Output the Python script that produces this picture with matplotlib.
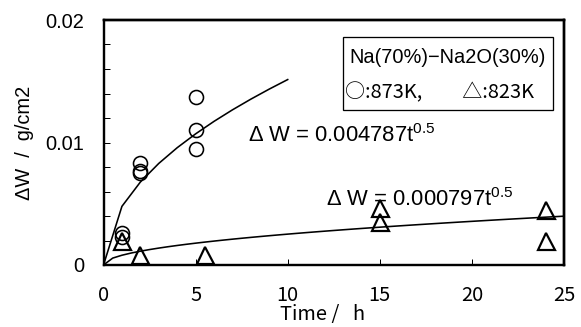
import numpy as np
import matplotlib.pyplot as plt
from matplotlib.patches import Rectangle

plt.rcParams['mathtext.fontset'] = 'custom'
plt.rcParams['mathtext.rm'] = 'Liberation Sans'
plt.rcParams['mathtext.it'] = 'Liberation Sans'

# 873K (circles)
t_873 = [1, 1, 2, 2, 2, 5, 5, 5]
dw_873 = [0.0026, 0.0023, 0.0083, 0.0077, 0.0075, 0.0137, 0.0110, 0.0095]

# 823K (triangles)
t_823 = [1, 2, 5.5, 15, 15, 24, 24]
dw_823 = [0.0020, 0.0008, 0.0008, 0.00465, 0.00347, 0.00453, 0.00196]

# parabolic fits  dW = k t^0.5
k_873 = 0.004787
k_823 = 0.000797
t_fit_873 = np.arange(0, 11, 1)
t_fit_823 = np.arange(0, 25.01, 0.5)

xmax, ymax = 25, 0.02
yticks = [0, 0.01, 0.02]
ylabels = ['0', '0.01', '0.02']
xticks = [0, 5, 10, 15, 20, 25]

jp = ['Noto Sans CJK JP', 'DejaVu Sans']
mix = ['Liberation Sans', 'Noto Sans CJK JP']

fig = plt.figure(figsize=(581/72, 327/72), dpi=72)
ax = fig.add_axes([103.5/581, 62/327, 460.5/581, 245/327])

ax.plot(t_fit_873, k_873*np.sqrt(t_fit_873), color='black', lw=1.6)
ax.plot(t_fit_823, k_823*np.sqrt(t_fit_823), color='black', lw=1.6)

ax.plot(t_873, dw_873, linestyle='none', marker='o', ms=14, mfc='none',
        mec='black', mew=1.6, clip_on=False)
ax.plot(t_823, dw_823, linestyle='none', marker='^', ms=17, mfc='none',
        mec='black', mew=2.2, clip_on=False)

ax.set_xlim(0, xmax)
ax.set_ylim(0, ymax)
ax.set_yticks(yticks)
ax.set_yticklabels(ylabels, family='Liberation Sans', fontsize=20)
ax.set_yticks(np.arange(0.002, 0.02, 0.002), minor=True)
ax.set_xticks(xticks)
ax.set_xticklabels([str(v) for v in xticks], family=jp, fontsize=20)
ax.tick_params(axis='both', which='both', direction='in', length=6, width=1)
ax.tick_params(axis='y', pad=19)
ax.tick_params(axis='x', pad=20)
for s in ax.spines.values():
    s.set_linewidth(2.4)
    s.set_color('black')
# frame on top and right
ax.plot([0, 1], [1, 1], transform=ax.transAxes, color='black', lw=2.4, clip_on=False, zorder=6)
ax.plot([1, 1], [0, 1], transform=ax.transAxes, color='black', lw=2.4, clip_on=False, zorder=6)

ax.set_xlabel('Time /   h', family=jp, fontsize=20)
ax.xaxis.set_label_coords((323-103.5)/460.5, -0.16)
ax.set_ylabel('ΔW  /  g/cm2', family=mix, fontsize=20, labelpad=12)

ax.text((248-103.5)/460.5, (265-142)/245, r'Δ W = 0.004787$\mathrm{t}^{0.5}$',
        transform=ax.transAxes, family='Liberation Sans', fontsize=22, va='baseline')
ax.text((326-103.5)/460.5, (265-206)/245, r'Δ W = 0.000797$\mathrm{t}^{0.5}$',
        transform=ax.transAxes, family='Liberation Sans', fontsize=22, va='baseline')

ax.add_patch(Rectangle((0.520, 0.633), 0.456, 0.298, transform=ax.transAxes,
                       fill=False, edgecolor='black', lw=1.3))
ax.text(0.535, 0.845, 'Na(70%)−Na2O(30%)', transform=ax.transAxes,
        family=mix, fontsize=20, va='center')
ax.text(0.524, 0.702, '○:873K,　　△:823K', transform=ax.transAxes,
        family=jp, fontsize=20, va='center')

fig.savefig('out.png', dpi=72)
